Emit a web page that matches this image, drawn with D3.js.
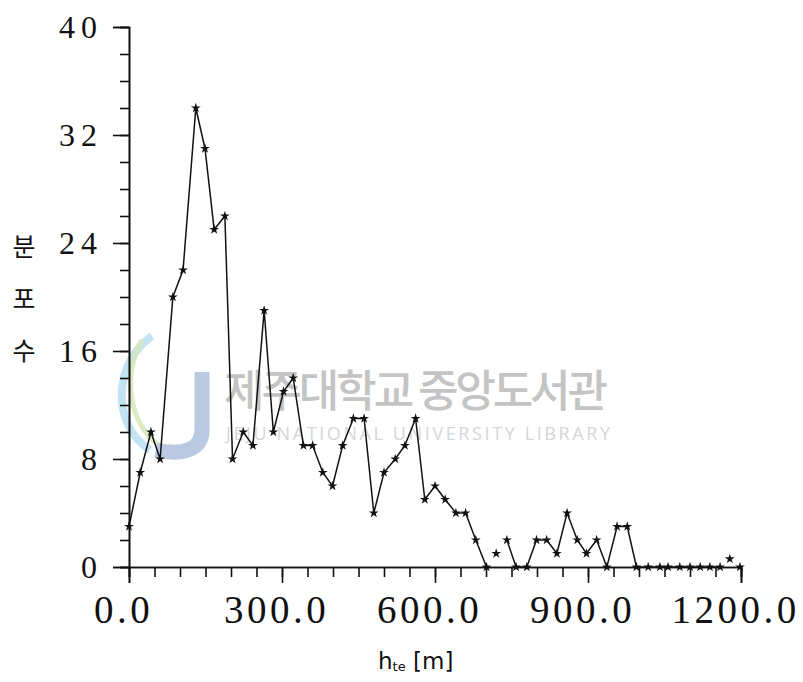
<!DOCTYPE html>
<html>
<head>
<meta charset="utf-8">
<script src="https://cdn.jsdelivr.net/npm/d3@7"></script>
<style>
  body { margin: 0; background: #fff; }
  svg { display: block; }
</style>
</head>
<body>
<svg id="chart" width="803" height="682"></svg>
<script>
// bin positions h_te (m)
var heights = [0, 22, 43, 61, 86, 106, 131, 149, 167, 188,
               203, 224, 243, 265, 283, 303, 322, 342, 360, 380,
               399, 419, 440, 461, 480, 500, 522, 541, 562, 580,
               600, 620, 641, 660, 680, 701, 720, 741, 759, 780,
               799, 819, 839, 859, 879, 897, 917, 937, 957, 977,
               995, 1018, 1041, 1057, 1080, 1100, 1120, 1139, 1159, 1178, 1198];
// counts (분포수), one per bin
var counts = [3, 7, 10, 8, 20, 22, 34, 31, 25, 26,
              8, 10, 9, 19, 10, 13, 14, 9, 9, 7,
              6, 9, 11, 11, 4, 7, 8, 9, 11, 5,
              6, 5, 4, 4, 2, 0, 1, 2, 0, 0,
              2, 2, 1, 4, 2, 1, 2, 0, 3, 3,
              0, 0, 0, 0, 0, 0, 0, 0, 0, 0.6, 0];
// points plotted on their own, not joined to neighbours
var isolated = [36, 59];

var yMajor = [0, 8, 16, 24, 32, 40];
var yMinor = d3.range(0, 41, 2);
var xMajor = [0, 300, 600, 900, 1200];
var xMinor = d3.range(0, 1201, 50);
var xLabels = ["0.0", "300.0", "600.0", "900.0", "1200.0"];
var yTitle = ["분", "포", "수"];

var data = heights.map((h, i) => ({ h: h, n: counts[i], i: i }));

var svg = d3.select("#chart");

var x = d3.scaleLinear().domain([0, 1200]).range([129, 741]);
var y = d3.scaleLinear().domain([0, 40]).range([567, 27]);

//// watermark (library stamp) behind everything
var wm = svg.append("g").attr("class", "watermark");
wm.append("path")
    .attr("d", "M152,336 C114,362 110,424 150,450")
    .attr("fill", "none").attr("stroke", "#b4dcef").attr("stroke-width", 8).attr("opacity", 0.8);
wm.append("path")
    .attr("d", "M142,340 C124,372 126,422 160,446")
    .attr("fill", "none").attr("stroke", "#d3e7b3").attr("stroke-width", 5).attr("opacity", 0.8);
wm.append("path")
    .attr("d", "M202,372 L202,430 C202,450 182,456 156,450")
    .attr("fill", "none").attr("stroke", "#b9c9e1").attr("stroke-width", 15);
wm.append("text")
    .attr("x", 224).attr("y", 407)
    .attr("font-family", "'Noto Sans CJK KR', sans-serif")
    .attr("font-size", 44)
    .attr("font-weight", 500)
    .attr("fill", "#c4c4c4")
    .attr("textLength", 384)
    .text("제주대학교 중앙도서관");
wm.append("text")
    .attr("x", 226).attr("y", 440)
    .attr("font-family", "'Open Sans', sans-serif")
    .attr("font-size", 18)
    .attr("fill", "#d6d6d6")
    .attr("textLength", 384)
    .text("JEJU NATIONAL UNIVERSITY LIBRARY");

//// axes
var yMinorAxis = d3.axisLeft(y).tickValues(yMinor).tickSize(9).tickFormat("");
var yMajorAxis = d3.axisLeft(y).tickValues(yMajor).tickSize(16).tickPadding(16).tickFormat(d3.format("d"));
var xMinorAxis = d3.axisBottom(x).tickValues(xMinor).tickSize(10).tickFormat("");
var xMajorAxis = d3.axisBottom(x).tickValues(xMajor).tickSize(16).tickPadding(12)
    .tickFormat((d, i) => xLabels[i]);

function styleAxis(g) {
    g.select(".domain").attr("stroke", "#111").attr("stroke-width", 1.6);
    g.selectAll(".tick line").attr("stroke", "#111").attr("stroke-width", 1.6);
    g.selectAll("text")
        .attr("fill", "#111")
        .style("font-family", "'Liberation Serif', serif");
}

svg.append("g").attr("transform", "translate(129,0)").call(yMinorAxis).call(styleAxis);
svg.append("g").attr("transform", "translate(129,0)").call(yMajorAxis).call(styleAxis)
    .selectAll("text")
    .style("font-size", "32px")
    .style("letter-spacing", "6px")
    .attr("dx", 6);
svg.append("g").attr("transform", "translate(0,567)").call(xMinorAxis).call(styleAxis);
svg.append("g").attr("transform", "translate(0,567)").call(xMajorAxis).call(styleAxis)
    .selectAll("text")
    .style("font-size", "39px")
    .style("letter-spacing", "3.5px")
    .attr("dx", -6);

// axis titles
svg.append("g")
    .selectAll("text")
    .data(yTitle)
    .enter()
    .append("text")
    .attr("x", 24)
    .attr("y", (d, i) => 256 + i * 52)
    .attr("text-anchor", "middle")
    .attr("font-family", "'Noto Sans CJK KR', sans-serif")
    .attr("font-size", 25)
    .attr("fill", "#111")
    .text(d => d);

var xt = svg.append("text")
    .attr("x", 378).attr("y", 669)
    .attr("font-family", "'DejaVu Sans', sans-serif")
    .attr("font-size", 23)
    .attr("fill", "#111");
xt.append("tspan").text("h");
xt.append("tspan").attr("font-size", 13).attr("dy", 2).text("te");
xt.append("tspan").attr("dy", -2).text(" [m]");

//// data line and markers
var line = d3.line()
    .defined(d => isolated.indexOf(d.i) < 0)
    .x(d => x(d.h))
    .y(d => y(d.n));

svg.append("path")
    .datum(data)
    .attr("fill", "none")
    .attr("stroke", "#111")
    .attr("stroke-width", 1.5)
    .attr("d", line);

svg.append("g")
    .selectAll("path")
    .data(data)
    .enter()
    .append("path")
    .attr("transform", d => "translate(" + x(d.h) + "," + y(d.n) + ")")
    .attr("d", d3.symbol().type(d3.symbolStar).size(30))
    .attr("fill", "#111");
</script>
</body>
</html>
